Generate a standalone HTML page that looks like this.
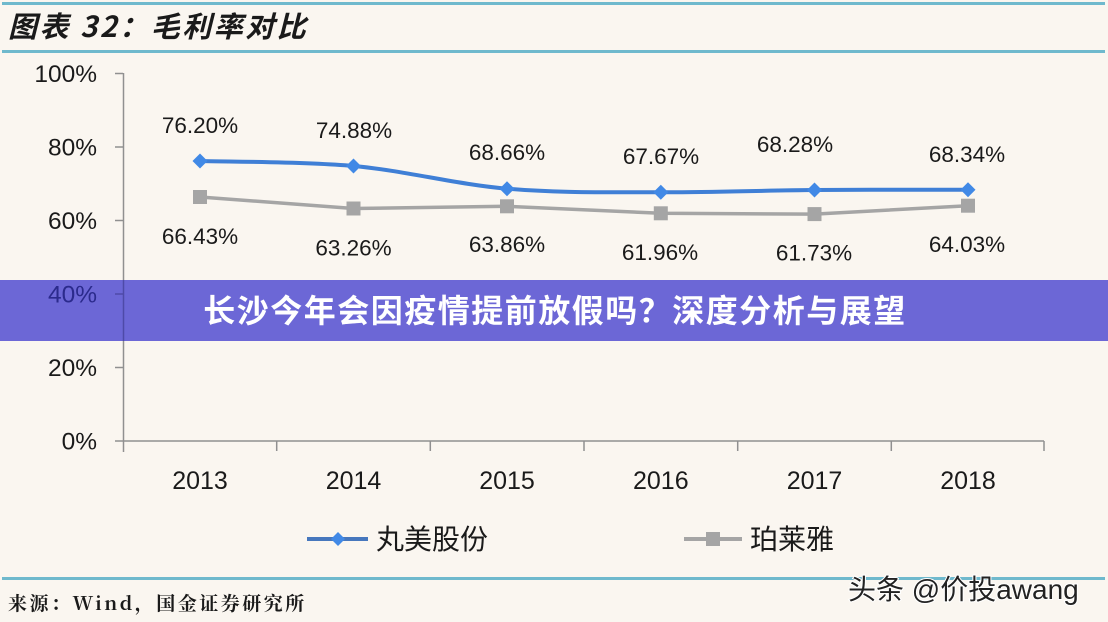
<!DOCTYPE html>
<html>
<head>
<meta charset="utf-8">
<style>
  html,body{margin:0;padding:0;background:#faf6f0;}
  svg{display:block;}
  text{font-family:"Liberation Sans","Noto Sans CJK SC",sans-serif;}
</style>
</head>
<body>
<svg width="1108" height="622" viewBox="0 0 1108 622" xmlns="http://www.w3.org/2000/svg">
  <rect x="0" y="0" width="1108" height="622" fill="#faf6f0"/>
  <!-- title lines -->
  <rect x="2" y="2" width="1103" height="3" fill="#6fb9cd"/>
  <rect x="2" y="50" width="1103" height="3" fill="#6fb9cd"/>
  <text x="8" y="37" font-size="29" font-weight="bold" font-style="italic" fill="#1a1a1a" letter-spacing="2.5" style="font-family:'Noto Sans CJK SC','Liberation Sans',sans-serif;">图表 32：毛利率对比</text>

  <!-- axes -->
  <g stroke="#909090" stroke-width="1.5" fill="none">
    <line x1="123.5" y1="73" x2="123.5" y2="452"/>
    <line x1="115" y1="441" x2="1044" y2="441"/>
    <line x1="115" y1="73.5" x2="123" y2="73.5"/>
    <line x1="115" y1="147" x2="123" y2="147"/>
    <line x1="115" y1="220.5" x2="123" y2="220.5"/>
    <line x1="115" y1="367.5" x2="123" y2="367.5"/>
    <line x1="276.7" y1="441" x2="276.7" y2="451"/>
    <line x1="430.3" y1="441" x2="430.3" y2="451"/>
    <line x1="584" y1="441" x2="584" y2="451"/>
    <line x1="737.7" y1="441" x2="737.7" y2="451"/>
    <line x1="891.3" y1="441" x2="891.3" y2="451"/>
    <line x1="1044" y1="441" x2="1044" y2="451"/>
  </g>

  <!-- y labels -->
  <g font-size="24.5" fill="#1a1a1a" text-anchor="end">
    <text x="97" y="82">100%</text>
    <text x="97" y="155.5">80%</text>
    <text x="97" y="229">60%</text>
    <text x="97" y="376">20%</text>
    <text x="97" y="449.5">0%</text>
  </g>

  <!-- x labels -->
  <g font-size="25" fill="#1a1a1a" text-anchor="middle">
    <text x="200" y="489">2013</text>
    <text x="353.5" y="489">2014</text>
    <text x="507" y="489">2015</text>
    <text x="660.8" y="489">2016</text>
    <text x="814.5" y="489">2017</text>
    <text x="968" y="489">2018</text>
  </g>

  <!-- grey series -->
  <polyline points="200,197 353.5,208.5 507,206.3 660.8,213.3 814.5,214.1 968,205.7" fill="none" stroke="#a5a5a5" stroke-width="3.5" stroke-linejoin="round"/>
  <g fill="#a5a5a5">
    <rect x="193" y="190" width="14" height="14"/>
    <rect x="346.5" y="201.5" width="14" height="14"/>
    <rect x="500" y="199.3" width="14" height="14"/>
    <rect x="653.8" y="206.3" width="14" height="14"/>
    <rect x="807.5" y="207.1" width="14" height="14"/>
    <rect x="961" y="198.7" width="14" height="14"/>
  </g>

  <!-- blue series -->
  <path d="M200,161 C225.6,161.8 302.3,161.4 353.5,166 C404.7,170.6 455.8,184.3 507,188.7 C558.2,193.1 609.5,192.1 660.8,192.3 C712,192.5 763.3,190.4 814.5,190 C865.7,189.6 942.4,189.8 968,189.8" fill="none" stroke="#3f7fd6" stroke-width="4" stroke-linecap="round"/>
  <g fill="#4189e6">
    <polygon points="200,153.5 207.5,161 200,168.5 192.5,161"/>
    <polygon points="353.5,158.5 361,166 353.5,173.5 346,166"/>
    <polygon points="507,181.2 514.5,188.7 507,196.2 499.5,188.7"/>
    <polygon points="660.8,184.8 668.3,192.3 660.8,199.8 653.3,192.3"/>
    <polygon points="814.5,182.5 822,190 814.5,197.5 807,190"/>
    <polygon points="968,182.3 975.5,189.8 968,197.3 960.5,189.8"/>
  </g>

  <!-- data labels -->
  <g font-size="22.5" fill="#1a1a1a" text-anchor="middle">
    <text x="200" y="133">76.20%</text>
    <text x="354" y="138">74.88%</text>
    <text x="507" y="160">68.66%</text>
    <text x="661" y="164">67.67%</text>
    <text x="795" y="152">68.28%</text>
    <text x="967" y="162">68.34%</text>
    <text x="200" y="244">66.43%</text>
    <text x="353.5" y="255.5">63.26%</text>
    <text x="507" y="252">63.86%</text>
    <text x="660" y="260">61.96%</text>
    <text x="814" y="260.5">61.73%</text>
    <text x="967" y="252">64.03%</text>
  </g>

  <!-- banner -->
  <rect x="0" y="280" width="1108" height="61" fill="#6c67d6"/>
  <line x1="123.5" y1="280" x2="123.5" y2="341" stroke="#4e4aa8" stroke-width="1.5"/>
  <line x1="115" y1="294" x2="123" y2="294" stroke="#4e4aa8" stroke-width="1.5"/>
  <text x="97" y="302.5" font-size="24.5" fill="#2b2a8c" text-anchor="end">40%</text>
  <text x="555" y="322" font-size="32" font-weight="bold" fill="#ffffff" text-anchor="middle" letter-spacing="1.5" style="font-family:'Noto Sans CJK SC',sans-serif;">长沙今年会因疫情提前放假吗？深度分析与展望</text>

  <!-- legend -->
  <line x1="307" y1="539" x2="368" y2="539" stroke="#4677bd" stroke-width="4"/>
  <polygon points="338,532 345,539 338,546 331,539" fill="#4189e6"/>
  <text x="376" y="549" font-size="28" fill="#1a1a1a">丸美股份</text>
  <line x1="684" y1="539" x2="742" y2="539" stroke="#a5a5a5" stroke-width="4"/>
  <rect x="706" y="532" width="14" height="14" fill="#a5a5a5"/>
  <text x="750" y="549" font-size="28" fill="#1a1a1a">珀莱雅</text>

  <!-- bottom line -->
  <rect x="2" y="577" width="1103" height="3" fill="#6fb9cd"/>
  <text x="8" y="610" font-size="19" font-weight="bold" fill="#1a1a1a" letter-spacing="2.5" style="font-family:'Noto Serif CJK SC','Liberation Sans',serif;">来源：Wind，国金证券研究所</text>

  <!-- watermark -->
  <text x="848" y="599" font-size="28" fill="#222" stroke="#ffffff" stroke-width="2" paint-order="stroke" style="font-family:'Liberation Sans','Noto Sans CJK SC',sans-serif;">头条 @价投awang</text>
</svg>
</body>
</html>
